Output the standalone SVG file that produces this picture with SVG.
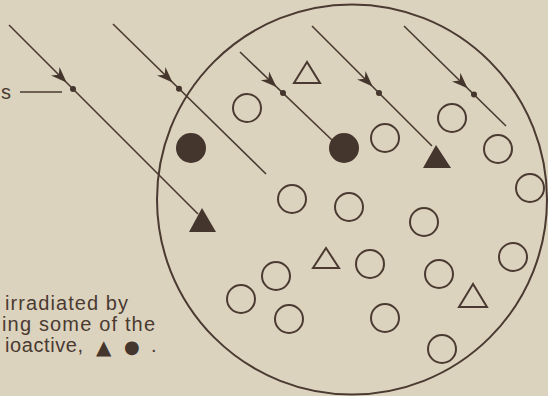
<svg xmlns="http://www.w3.org/2000/svg" width="548" height="396" viewBox="0 0 548 396">
<style>
.bg{fill:#dcd3be}
.ink{stroke:#4a3a31;fill:none}
.ray{stroke:#4a3a31;stroke-width:1.6;fill:none}
.open{stroke:#4a3a31;stroke-width:2;fill:none}
.solid{fill:#44352d;stroke:none}
.lbl{font-family:"Liberation Sans","DejaVu Sans",sans-serif;font-size:20px;fill:#4a3a31}
.sym{font-family:"DejaVu Sans","Liberation Sans",sans-serif;fill:#44352d}
</style>
<defs>
<path id="ah" d="M0,0 L-16,-6 L-11,0 L-16,6 Z" fill="#44352d"/>
<circle id="oc" r="14" class="open"/>
<circle id="fc" r="15" class="solid"/>
</defs>
<rect class="bg" x="0" y="0" width="548" height="396"/>
<g id="cell">
<circle cx="352" cy="199.5" r="195" class="ink" stroke-width="2"/>
</g>
<g id="connectors">
<line class="ray" x1="9" y1="25" x2="198" y2="214"/>
<line class="ray" x1="113" y1="24" x2="266" y2="174"/>
<line class="ray" x1="240" y1="52" x2="333" y2="141"/>
<line class="ray" x1="312" y1="26" x2="432" y2="146"/>
<line class="ray" x1="404" y1="26" x2="506" y2="126"/>
<line class="ray" x1="20" y1="92" x2="62" y2="92" stroke-width="1.3"/>
<use href="#ah" transform="translate(66.6,82.6) rotate(45)"/>
<use href="#ah" transform="translate(172.6,82.4) rotate(44.4)"/>
<use href="#ah" transform="translate(276.5,86.9) rotate(43.7)"/>
<use href="#ah" transform="translate(372.6,86.6) rotate(45)"/>
<use href="#ah" transform="translate(467.6,88.3) rotate(44.4)"/>
<circle class="solid" cx="73" cy="89" r="3"/>
<circle class="solid" cx="179" cy="88.7" r="3"/>
<circle class="solid" cx="283" cy="93.1" r="3"/>
<circle class="solid" cx="379" cy="93" r="3"/>
<circle class="solid" cx="474" cy="94.6" r="3"/>
</g>
<g id="radioactive">
<use href="#fc" x="191" y="148"/>
<use href="#fc" x="344" y="148"/>
<polygon class="solid" points="202,208 189,232 216,232"/>
<polygon class="solid" points="436,145 423,168 451,168"/>
</g>
<g id="molecules">
<use href="#oc" x="247" y="108"/>
<use href="#oc" x="385" y="138"/>
<use href="#oc" x="452" y="118"/>
<use href="#oc" x="498" y="149"/>
<use href="#oc" x="530" y="188"/>
<use href="#oc" x="292" y="199"/>
<use href="#oc" x="349" y="207"/>
<use href="#oc" x="424" y="222"/>
<use href="#oc" x="513" y="257"/>
<use href="#oc" x="370" y="264"/>
<use href="#oc" x="439" y="274"/>
<use href="#oc" x="276" y="276"/>
<use href="#oc" x="241" y="299"/>
<use href="#oc" x="289" y="319"/>
<use href="#oc" x="385" y="318"/>
<use href="#oc" x="442" y="349"/>
<polygon class="open" points="307,62 294,83 320,83"/>
<polygon class="open" points="326,248 313,268 339,268"/>
<polygon class="open" points="473,284 459,307 487,307"/>
</g>
<g id="labels">
<text class="lbl" x="1" y="99">s</text>
<text class="lbl" x="5" y="310" textLength="123" lengthAdjust="spacing">irradiated by</text>
<text class="lbl" x="2" y="331" textLength="153" lengthAdjust="spacing">ing some of the</text>
<text class="lbl" x="5" y="352" textLength="78" lengthAdjust="spacing">ioactive,</text>
<text class="sym" x="96" y="354" font-size="20">▲</text>
<text class="sym" x="124" y="353" font-size="18">●</text>
<text class="lbl" x="151" y="352">.</text>
</g>
</svg>
